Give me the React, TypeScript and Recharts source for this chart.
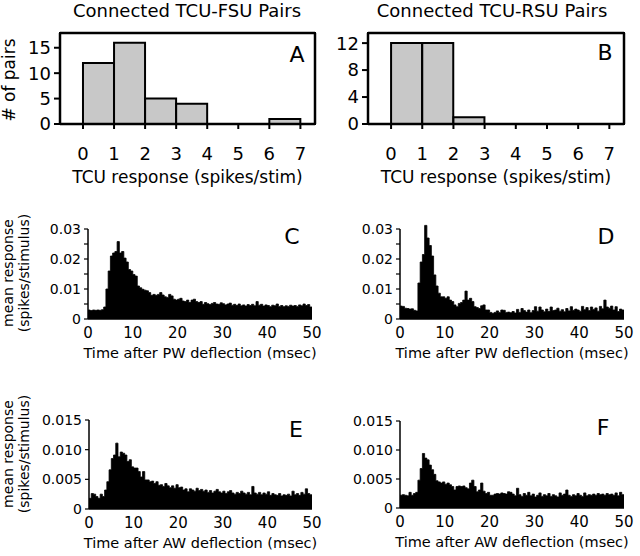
import { BarChart, Bar, AreaChart, Area, XAxis, YAxis, ReferenceLine, Label } from 'recharts'

const FONT = '"DejaVu Sans", sans-serif'

// A, B: connected pairs per TCU response bin (spikes/stim)
const responseBins = [0, 1, 2, 3, 4, 5, 6]
const fsuPairs = [12, 16, 5, 4, 0, 0, 1]
const rsuPairs = [12, 12, 1, 0, 0, 0, 0]
const responseTicks = [0, 1, 2, 3, 4, 5, 6, 7]

// C-F: mean response (spikes/stimulus), 0.5 ms bins from 0 to 50 ms
const binWidth = 0.5
const fsuPW = [
  0.0030, 0.0028, 0.0030, 0.0029, 0.0030, 0.0029, 0.0031, 0.0040, 0.0100, 0.0160,
  0.0210, 0.0220, 0.0225, 0.0258, 0.0220, 0.0225, 0.0203, 0.0190, 0.0165, 0.0160,
  0.0148, 0.0143, 0.0110, 0.0104, 0.0099, 0.0096, 0.0094, 0.0088, 0.0079, 0.0082,
  0.0079, 0.0082, 0.0088, 0.0080, 0.0074, 0.0072, 0.0082, 0.0077, 0.0066, 0.0063,
  0.0066, 0.0069, 0.0060, 0.0058, 0.0063, 0.0055, 0.0063, 0.0066, 0.0058, 0.0055,
  0.0058, 0.0049, 0.0055, 0.0051, 0.0048, 0.0052, 0.0055, 0.0050, 0.0049, 0.0054,
  0.0051, 0.0047, 0.0050, 0.0053, 0.0046, 0.0049, 0.0045, 0.0050, 0.0044, 0.0047,
  0.0043, 0.0048, 0.0045, 0.0049, 0.0044, 0.0058, 0.0046, 0.0049, 0.0043, 0.0047,
  0.0045, 0.0041, 0.0046, 0.0044, 0.0050, 0.0042, 0.0045, 0.0041, 0.0044, 0.0042,
  0.0046, 0.0043, 0.0045, 0.0042, 0.0047, 0.0044, 0.0050, 0.0045, 0.0048, 0.0040,
]
const rsuPW = [
  0.0043, 0.0042, 0.0036, 0.0035, 0.0033, 0.0034, 0.0029, 0.0027, 0.0120, 0.0190,
  0.0215, 0.0312, 0.0270, 0.0245, 0.0210, 0.0147, 0.0110, 0.0086, 0.0074, 0.0074,
  0.0069, 0.0074, 0.0063, 0.0058, 0.0047, 0.0041, 0.0052, 0.0055, 0.0063, 0.0093,
  0.0063, 0.0069, 0.0058, 0.0041, 0.0038, 0.0035, 0.0044, 0.0047, 0.0030, 0.0030,
  0.0022, 0.0019, 0.0022, 0.0027, 0.0022, 0.0030, 0.0029, 0.0022, 0.0023, 0.0021,
  0.0025, 0.0020, 0.0032, 0.0022, 0.0035, 0.0028, 0.0023, 0.0030, 0.0021, 0.0028,
  0.0041, 0.0026, 0.0040, 0.0030, 0.0024, 0.0033, 0.0025, 0.0040, 0.0028, 0.0030,
  0.0036, 0.0026, 0.0031, 0.0024, 0.0035, 0.0027, 0.0041, 0.0029, 0.0033, 0.0030,
  0.0026, 0.0042, 0.0031, 0.0038, 0.0028, 0.0040, 0.0032, 0.0037, 0.0026, 0.0042,
  0.0034, 0.0063, 0.0040, 0.0036, 0.0043, 0.0030, 0.0041, 0.0025, 0.0033, 0.0030,
]
const fsuAW = [
  0.0018, 0.0026, 0.0025, 0.0021, 0.0018, 0.0025, 0.0021, 0.0032, 0.0046, 0.0066,
  0.0085, 0.0091, 0.0111, 0.0088, 0.0096, 0.0094, 0.0091, 0.0080, 0.0083, 0.0071,
  0.0069, 0.0069, 0.0063, 0.0054, 0.0063, 0.0049, 0.0049, 0.0046, 0.0047, 0.0043,
  0.0046, 0.0040, 0.0041, 0.0038, 0.0043, 0.0039, 0.0036, 0.0039, 0.0035, 0.0041,
  0.0036, 0.0037, 0.0032, 0.0034, 0.0029, 0.0034, 0.0032, 0.0030, 0.0035, 0.0031,
  0.0033, 0.0030, 0.0032, 0.0028, 0.0031, 0.0027, 0.0030, 0.0033, 0.0029, 0.0027,
  0.0030, 0.0026, 0.0029, 0.0031, 0.0027, 0.0025, 0.0028, 0.0026, 0.0030, 0.0027,
  0.0025, 0.0028, 0.0024, 0.0038, 0.0027, 0.0025, 0.0028, 0.0024, 0.0027, 0.0025,
  0.0029, 0.0023, 0.0026, 0.0024, 0.0023, 0.0026, 0.0022, 0.0024, 0.0023, 0.0025,
  0.0022, 0.0030, 0.0024, 0.0026, 0.0023, 0.0028, 0.0025, 0.0034, 0.0026, 0.0024,
]
const rsuAW = [
  0.0022, 0.0023, 0.0022, 0.0021, 0.0027, 0.0022, 0.0025, 0.0027, 0.0048, 0.0068,
  0.0094, 0.0086, 0.0083, 0.0074, 0.0066, 0.0058, 0.0047, 0.0045, 0.0043, 0.0045,
  0.0041, 0.0043, 0.0040, 0.0037, 0.0031, 0.0037, 0.0038, 0.0037, 0.0038, 0.0035,
  0.0033, 0.0043, 0.0048, 0.0037, 0.0028, 0.0031, 0.0043, 0.0029, 0.0025, 0.0027,
  0.0022, 0.0022, 0.0024, 0.0025, 0.0024, 0.0026, 0.0025, 0.0024, 0.0028, 0.0027,
  0.0024, 0.0021, 0.0034, 0.0023, 0.0020, 0.0025, 0.0022, 0.0027, 0.0021, 0.0024,
  0.0019, 0.0022, 0.0026, 0.0020, 0.0023, 0.0021, 0.0025, 0.0020, 0.0023, 0.0021,
  0.0019, 0.0026, 0.0022, 0.0024, 0.0031, 0.0022, 0.0020, 0.0023, 0.0021, 0.0025,
  0.0022, 0.0020, 0.0026, 0.0021, 0.0023, 0.0022, 0.0024, 0.0022, 0.0025, 0.0023,
  0.0024, 0.0022, 0.0025, 0.0023, 0.0024, 0.0022, 0.0026, 0.0021, 0.0027, 0.0023,
]
const timeTicks = [0, 10, 20, 30, 40, 50]
const pwTicks = [0, 0.005, 0.01, 0.015, 0.02, 0.025, 0.03]
const awTicks = [0, 0.005, 0.01, 0.015]

const X_MIN = -0.74
const X_MAX = 7.47

const histData = (counts: number[]) => responseBins.map((b, i) => ({ x: b + 0.5, n: counts[i] }))

// step area needs a closing point at the end of the last bin
const psthData = (vals: number[]) => [
  ...vals.map((v, i) => ({ t: i * binWidth, v })),
  { t: vals.length * binWidth, v: vals[vals.length - 1] },
]

const pwFmt = (v: number) => (v === 0 ? '0' : Math.round(v * 1000) % 10 === 0 ? v.toFixed(2) : '')
const awFmt = (v: number) => (v === 0 ? '0' : v.toFixed(3))

const Letter = ({ x, y, children }: any) => (
  <div style={{ position: 'absolute', left: x, top: y, transform: 'translate(-50%, -50%)', fontSize: 22, lineHeight: 1 }}>
    {children}
  </div>
)

const Title = ({ x, y, children }: any) => (
  <div style={{ position: 'absolute', left: x, top: y, transform: 'translate(-50%, -50%)', fontSize: 18, lineHeight: 1, whiteSpace: 'nowrap' }}>
    {children}
  </div>
)

const meanLabel = (cy: number) => () => (
  <text transform={`translate(0, ${cy}) rotate(-90)`} textAnchor="middle" fontSize={14} fill="#000">
    <tspan x={0} y={13}>mean response</tspan>
    <tspan x={0} y={29}>(spikes/stimulus)</tspan>
  </text>
)

const pairsLabel = () => (
  <text transform="translate(0, 60) rotate(-90)" textAnchor="middle" fontSize={17} fill="#000">
    <tspan x={0} y={15}># of pairs</tspan>
  </text>
)

const HIST_W = 320
const HIST_H = 180
const HIST_TOP = 13
const HIST_XAXIS_H = 76
const FRAME_W = 2.5

function HistPanel({ left, counts, yMax, yTicks, yWidth, marginRight, withYLabel }: any) {
  const frame = { stroke: '#000', strokeWidth: FRAME_W }
  return (
    <div style={{ position: 'absolute', left, top: 20, width: HIST_W, height: HIST_H }}>
      <BarChart width={HIST_W} height={HIST_H} data={histData(counts)} margin={{ top: HIST_TOP, right: marginRight, left: 0, bottom: 0 }}>
        <XAxis
          type="number"
          dataKey="x"
          domain={[X_MIN, X_MAX]}
          allowDataOverflow
          ticks={responseTicks}
          interval={0}
          height={HIST_XAXIS_H}
          axisLine={frame}
          tickLine={{ stroke: '#000', strokeWidth: 2 }}
          tickSize={5}
          tickMargin={18}
          tick={{ fill: '#000', fontSize: 18 }}
        >
          <Label value="TCU response (spikes/stim)" position="insideBottom" offset={17} fill="#000" fontSize={17} />
        </XAxis>
        <YAxis
          type="number"
          domain={[0, yMax]}
          allowDataOverflow
          ticks={yTicks}
          interval={0}
          width={yWidth}
          axisLine={frame}
          tickLine={{ stroke: '#000', strokeWidth: 2 }}
          tickSize={6}
          tickMargin={3}
          tick={{ fill: '#000', fontSize: 18 }}
        >
          {withYLabel && <Label content={pairsLabel} />}
        </YAxis>
        <Bar dataKey="n" fill="#c8c8c8" stroke="#000" strokeWidth={2} barSize={31} isAnimationActive={false} />
        {/* top and right sides of the box */}
        <ReferenceLine
          segment={[{ x: X_MIN, y: yMax }, { x: X_MAX, y: yMax }]}
          stroke="#000"
          strokeWidth={FRAME_W}
          ifOverflow="visible"
        />
        <ReferenceLine
          segment={[{ x: X_MAX, y: 0 }, { x: X_MAX, y: yMax }]}
          stroke="#000"
          strokeWidth={FRAME_W}
          ifOverflow="visible"
        />
      </BarChart>
      <div
        style={{
          position: 'absolute',
          left: yWidth - FRAME_W / 2,
          top: HIST_TOP - FRAME_W / 2,
          width: HIST_W - marginRight - yWidth + FRAME_W,
          height: HIST_H - HIST_TOP - HIST_XAXIS_H + FRAME_W,
          borderTop: `${FRAME_W}px solid #000`,
          borderRight: `${FRAME_W}px solid #000`,
          boxSizing: 'border-box',
          pointerEvents: 'none',
          zIndex: 5,
        }}
      />
    </div>
  )
}

function PsthPanel({ left, top, height, margin, values, yMax, yTicks, fmt, xLabel, labelY }: any) {
  return (
    <div style={{ position: 'absolute', left, top }}>
      <AreaChart width={332} height={height} data={psthData(values)} margin={margin}>
        <XAxis
          type="number"
          dataKey="t"
          domain={[0, 50]}
          allowDataOverflow
          ticks={timeTicks}
          interval={0}
          height={46}
          axisLine={{ stroke: '#000', strokeWidth: 1.5 }}
          tickLine={false}
          tickSize={3}
          tickMargin={5}
          tick={{ fill: '#000', fontSize: 15 }}
        >
          <Label value={xLabel} position="insideBottom" offset={7} fill="#000" fontSize={14.5} />
        </XAxis>
        <YAxis
          type="number"
          domain={[0, yMax]}
          allowDataOverflow
          ticks={yTicks}
          interval={0}
          tickFormatter={fmt}
          width={50}
          axisLine={false}
          tickLine={{ stroke: '#000', strokeWidth: 1.2 }}
          tickSize={4}
          tickMargin={3}
          tick={{ fill: '#000', fontSize: 14 }}
        >
          {labelY !== undefined && <Label content={meanLabel(labelY)} />}
        </YAxis>
        <Area
          type="stepAfter"
          dataKey="v"
          fill="#000"
          fillOpacity={1}
          stroke="#000"
          strokeWidth={0.8}
          baseValue={0}
          isAnimationActive={false}
        />
        <ReferenceLine
          segment={[{ x: 0, y: 0 }, { x: 0, y: yTicks[yTicks.length - 1] }]}
          stroke="#000"
          strokeWidth={1.5}
        />
      </AreaChart>
    </div>
  )
}

export default function App() {
  return (
    <div style={{ position: 'absolute', left: 0, top: 0, width: 640, height: 556, background: '#fff', fontFamily: FONT, color: '#000', overflow: 'hidden' }}>
      <Title x={187} y={11}>Connected TCU-FSU Pairs</Title>
      <Title x={492} y={11}>Connected TCU-RSU Pairs</Title>

      <HistPanel left={0} counts={fsuPairs} yMax={17.9} yTicks={[0, 5, 10, 15]} yWidth={60} marginRight={5} withYLabel />
      <HistPanel left={320} counts={rsuPairs} yMax={13.5} yTicks={[0, 4, 8, 12]} yWidth={48} marginRight={16} />

      <PsthPanel left={0} top={195} height={170} margin={{ top: 28, right: 20, left: 38, bottom: 0 }}
        values={fsuPW} yMax={0.032} yTicks={pwTicks} fmt={pwFmt} xLabel="Time after PW deflection (msec)" labelY={78} />
      <PsthPanel left={320} top={195} height={170} margin={{ top: 28, right: 28, left: 30, bottom: 0 }}
        values={rsuPW} yMax={0.032} yTicks={pwTicks} fmt={pwFmt} xLabel="Time after PW deflection (msec)" />
      <PsthPanel left={0} top={376} height={179} margin={{ top: 44, right: 20, left: 39, bottom: 0 }}
        values={fsuAW} yMax={0.015} yTicks={awTicks} fmt={awFmt} xLabel="Time after AW deflection (msec)" labelY={78} />
      <PsthPanel left={320} top={377} height={177} margin={{ top: 44, right: 28, left: 30, bottom: 0 }}
        values={rsuAW} yMax={0.015} yTicks={awTicks} fmt={awFmt} xLabel="Time after AW deflection (msec)" />

      <Letter x={297} y={55}>A</Letter>
      <Letter x={605} y={53}>B</Letter>
      <Letter x={292} y={237}>C</Letter>
      <Letter x={606} y={237}>D</Letter>
      <Letter x={296} y={430}>E</Letter>
      <Letter x={603} y={428}>F</Letter>
    </div>
  )
}
